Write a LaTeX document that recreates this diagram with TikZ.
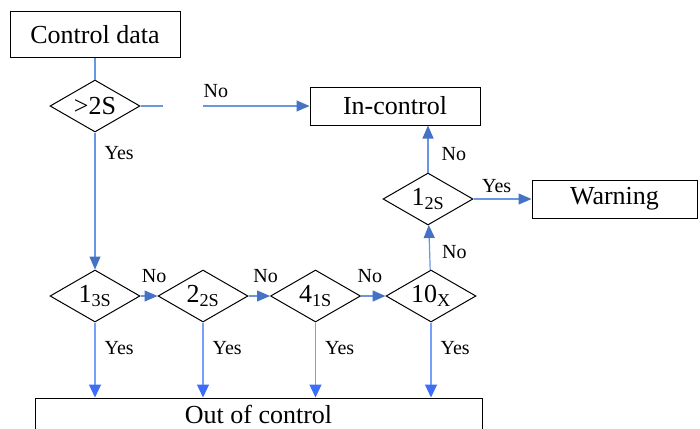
\documentclass[tikz,border=0pt]{standalone}
\usepackage{fontspec}
\setmainfont{Liberation Serif}
\usepackage{xcolor}
\usepackage{tikz}
\usetikzlibrary{arrows.meta, positioning, shapes.geometric}
\definecolor{FlowBlue}{RGB}{105, 150, 225}
\definecolor{TipBlue}{RGB}{68, 114, 196}
\definecolor{YesBlue}{RGB}{120, 160, 250}
\definecolor{YesTip}{RGB}{60, 110, 250}

\tikzset{
  box/.style={draw=black, line width=1pt, fill=white, minimum height=38pt,
              inner sep=0pt, font=\fontsize{26}{30}\selectfont},
  check/.style={draw=black, diamond, aspect=1.73, minimum width=90pt, minimum height=52pt,
                inner sep=0pt, line width=1pt, font=\fontsize{26}{30}\selectfont},
  flow/.style={draw=FlowBlue, line width=1.2pt},
  flowarrow/.style={flow, -{Triangle[length=13pt, width=11pt, color=TipBlue]}},
  yesarrow/.style={draw=YesBlue, line width=1.2pt, -{Triangle[length=13pt, width=12pt, color=YesTip]}},
  tag/.style={inner sep=0pt, font=\fontsize{20}{24}\selectfont}
}

\begin{document}
\begin{tikzpicture}[x=1pt, y=-1pt]
        \path[use as bounding box, clip] (0,0) rectangle (700,428);
        \node[box, minimum width=170pt, minimum height=45pt] (ctrl) at (95,34.5) {Control data};
        \node[check] (gt2s) at (95,106) {>2S};
        \node[box, minimum width=170pt] (inctrl) at (395,106) {In-control};
        \node[check] (rule12s) at (428,199) {1\textsubscript{2S}};
        \node[box, minimum width=165pt] (warn) at (614.5,199) {Warning};
        \node[check] (rule13s) at (95,296) {1\textsubscript{3S}};
        \node[check, right=17pt of rule13s] (rule22s) {2\textsubscript{2S}};
        \node[check, right=21.5pt of rule22s] (rule41s) {4\textsubscript{1S}};
        \node[check, right=24.5pt of rule41s] (rule10x) {10\textsubscript{X}};
        \node[box, minimum width=447pt, minimum height=33pt] (outctrl) at (258.5,414.5) {Out of control};
        \coordinate (nostart) at (203,106);

        \draw[flow] (ctrl) -- (gt2s);
        \draw[flow] (gt2s.east) -- ++(22,0);
        \draw[flowarrow] (nostart) -- node[tag, pos=0, anchor=south west, yshift=8pt] {No} (inctrl.west);
        \draw[flowarrow] (gt2s) -- node[tag, pos=0.15, right=9pt] {Yes} (rule13s);
        \draw[flowarrow] (rule13s) -- node[tag, pos=0.8, above=13pt] {No} (rule22s);
        \draw[flowarrow] (rule22s) -- node[tag, pos=0.8, above=13pt] {No} (rule41s);
        \draw[flowarrow] (rule41s) -- node[tag, pos=0.36, above=13pt] {No} (rule10x);
        \draw[flowarrow] (rule10x) -- node[tag, pos=0.4, right=12pt] {No} (rule12s);
        \draw[flowarrow] (rule12s.north) -- node[tag, pos=0.4, right=13pt] {No} (rule12s.north |- inctrl.south);
        \draw[flowarrow] (rule12s.east) -- node[tag, pos=0.4, above=6pt] {Yes} (rule12s.east -| warn.west);
        \foreach \r in {rule13s, rule22s, rule41s, rule10x}
          \draw[yesarrow] (\r.south) -- node[tag, pos=0.34, right=9pt] {Yes} (\r.south |- outctrl.north);
\end{tikzpicture}
\end{document}
